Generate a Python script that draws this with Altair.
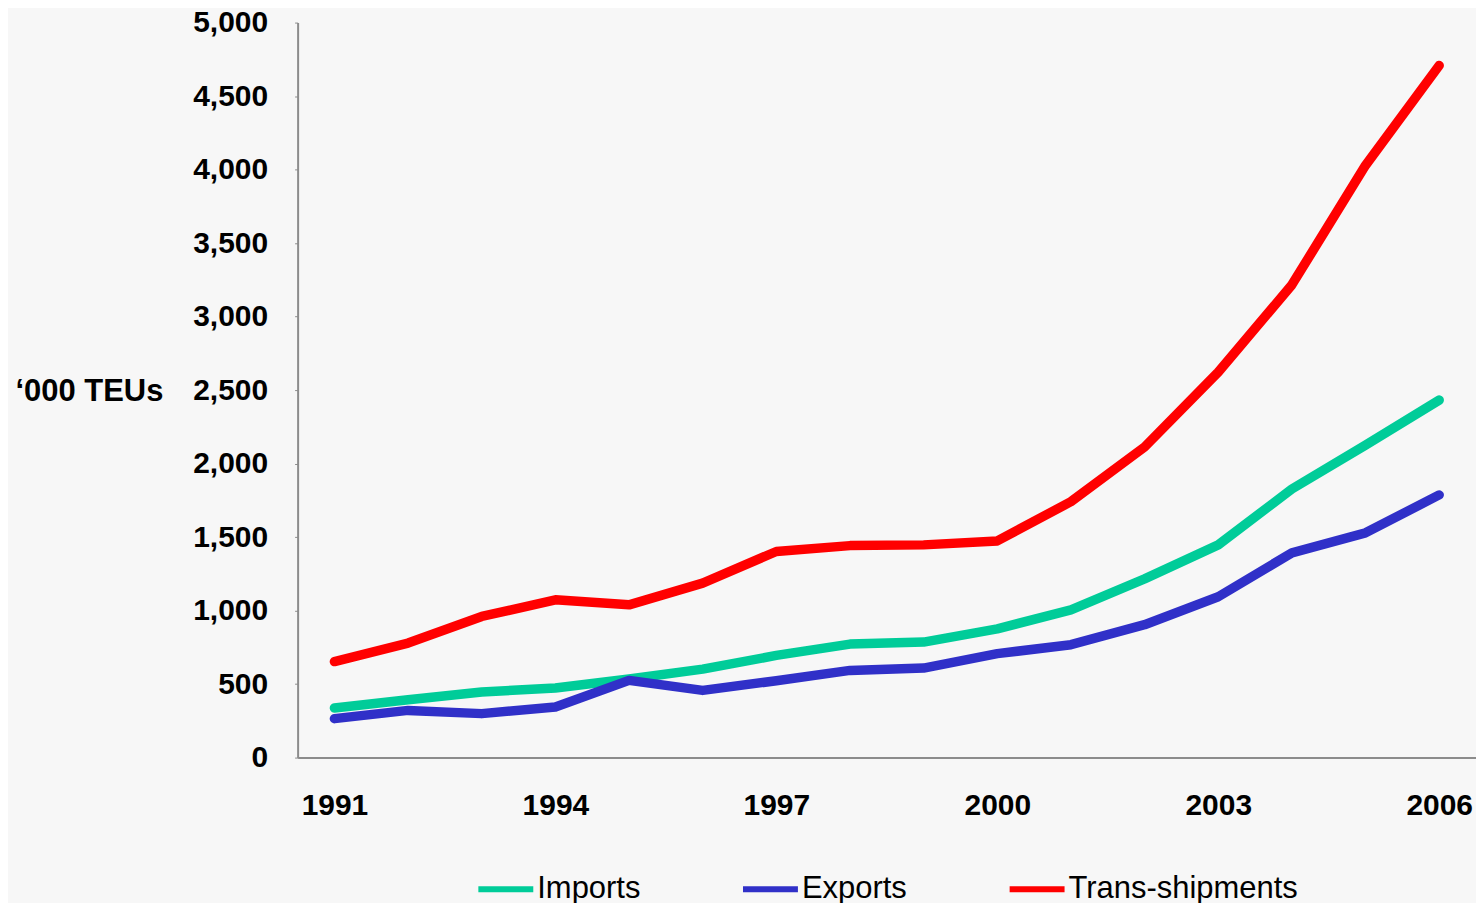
import altair as alt
import pandas as pd

years = list(range(1991, 2007))
imports = [337, 394, 446, 473, 535, 602, 695, 772, 786, 876, 1005, 1216, 1447, 1827, 2126, 2432]
exports = [265, 321, 299, 344, 525, 457, 523, 593, 609, 707, 768, 904, 1094, 1393, 1529, 1787]
trans = [653, 779, 960, 1073, 1039, 1187, 1402, 1442, 1447, 1474, 1741, 2113, 2622, 3216, 4029, 4708]
series = ["Imports", "Exports", "Trans-shipments"]
colors = ["#00CC99", "#3030C8", "#FF0000"]
x_ticks = [1991, 1994, 1997, 2000, 2003, 2006]
y_ticks = list(range(0, 5001, 500))

rows = []
for name, vals in zip(series, [imports, exports, trans]):
    for yr, v in zip(years, vals):
        rows.append({"year": yr, "value": v, "series": name, "ord": series.index(name)})
df = pd.DataFrame(rows)

FONT = "Liberation Sans"

chart = alt.Chart(df).mark_line(
    strokeWidth=9.5, strokeCap="round", strokeJoin="round"
).encode(
    x=alt.X(
        "year:Q",
        scale=alt.Scale(domain=[1990.5, 2006.5], nice=False, zero=False),
        axis=alt.Axis(
            values=x_ticks, format="d", title=None, ticks=False, grid=False,
            labelFontSize=30, labelFontWeight="bold", labelFont=FONT, labelColor="#000000",
            labelPadding=33, domainColor="#8c8c8c", domainWidth=2,
        ),
    ),
    y=alt.Y(
        "value:Q",
        scale=alt.Scale(domain=[0, 5000], nice=False),
        axis=alt.Axis(
            values=y_ticks, format=",d", grid=False,
            title="‘000 TEUs", titleAngle=0, titleX=-283, titleY=369,
            titleAlign="left", titleBaseline="middle", titleFont=FONT,
            titleFontSize=31, titleFontWeight="bold", titleColor="#000000",
            labelFontSize=30, labelFontWeight="bold", labelFont=FONT, labelColor="#000000",
            labelPadding=27, ticks=True, tickSize=3, tickColor="#8c8c8c",
            domainColor="#8c8c8c", domainWidth=2,
        ),
    ),
    color=alt.Color(
        "series:N",
        scale=alt.Scale(domain=series, range=colors),
        legend=alt.Legend(
            title=None, orient="none", legendX=178, legendY=837,
            direction="horizontal", symbolType="stroke", symbolSize=3025,
            symbolStrokeWidth=6, labelFontSize=31, labelFont=FONT,
            labelColor="#000000", labelOffset=1, columnPadding=90,
            padding=0, labelLimit=400,
        ),
    ),
    order=alt.Order("ord:Q"),
).properties(
    width=1180,
    height=736,
    autosize=alt.AutoSizeParams(type="none"),
    padding={"left": 290, "top": 14, "right": 0, "bottom": 145},
    background="#f7f7f7",
).configure_view(stroke=None)

chart.save("out.html", embed_options={"renderer": "svg", "actions": False})
